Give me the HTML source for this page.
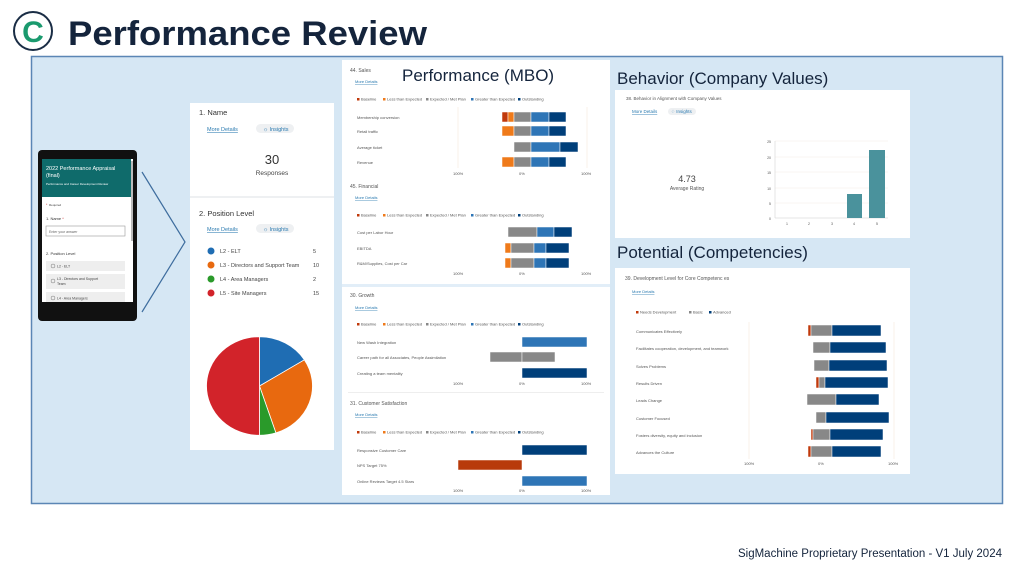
<!DOCTYPE html>
<html><head><meta charset="utf-8"><style>
html,body{margin:0;padding:0;background:#fff;}
svg{display:block;font-family:"Liberation Sans",sans-serif;}
</style></head><body>
<svg width="1024" height="571" viewBox="0 0 1024 571" xmlns="http://www.w3.org/2000/svg">
<rect width="1024" height="571" fill="#fff"/>
<!-- title -->
<circle cx="33" cy="31" r="19" fill="#fff" stroke="#1a2d45" stroke-width="2"/>
<text x="33" y="42" font-size="30" font-weight="bold" fill="#1a9a6e" text-anchor="middle">C</text>
<text x="68" y="45" font-size="34" font-weight="bold" fill="#14243c" textLength="359" lengthAdjust="spacingAndGlyphs">Performance Review</text>
<!-- panel -->
<rect x="31.5" y="56.5" width="971" height="447" fill="#d6e7f4" stroke="#5b86b5" stroke-width="1.5"/>
<!-- phone -->
<rect x="38" y="150" width="99" height="171" rx="4" fill="#111"/>
<rect x="42" y="159" width="91" height="143" fill="#fff"/>
<rect x="42" y="159" width="89" height="38" fill="#0f6b6b"/>
<text x="46" y="170" font-size="5.5" fill="#fff">2022 Performance Appraisal</text>
<text x="46" y="177" font-size="5.5" fill="#fff">(final)</text>
<text x="46" y="185" font-size="3" fill="#fff">Performance and Career Development Review</text>
<rect x="131" y="161" width="2" height="80" fill="#bbb"/>
<text x="46" y="206" font-size="3.5" fill="#c33">*</text><text x="49" y="206" font-size="3" fill="#444">Required</text>
<text x="46" y="220" font-size="4" fill="#333">1. Name <tspan fill="#c33">*</tspan></text>
<rect x="46" y="226" width="79" height="10" fill="#fff" stroke="#999" stroke-width="0.6"/>
<text x="49" y="233" font-size="3.5" fill="#666">Enter your answer</text>
<text x="46" y="255" font-size="4" fill="#333">2. Position Level</text>
<rect x="46" y="261" width="79" height="10" fill="#eee"/><circle cx="53" cy="266" r="2" fill="none" stroke="#777" stroke-width="0.5"/><text x="57" y="267.5" font-size="3.5" fill="#444">L2 - ELT</text>
<rect x="46" y="274" width="79" height="15" fill="#eee"/><circle cx="53" cy="281" r="2" fill="none" stroke="#777" stroke-width="0.5"/><text x="57" y="280" font-size="3.5" fill="#444">L3 - Directors and Support</text><text x="57" y="285" font-size="3.5" fill="#444">Team</text>
<rect x="46" y="292" width="79" height="10" fill="#eee"/><circle cx="53" cy="298" r="2" fill="none" stroke="#777" stroke-width="0.5"/><text x="57" y="299.5" font-size="3.5" fill="#444">L4 - Area Managers</text>
<!-- triangle -->
<polyline points="142,172 185,242 142,312" fill="none" stroke="#3e6d9e" stroke-width="1.2"/>
<!-- forms card -->
<rect x="190" y="103" width="144" height="347" fill="#fff"/>
<rect x="190" y="196" width="144" height="2" fill="#eef0f2"/>
<text x="199" y="115" font-size="7.5" fill="#333">1.  Name</text>
<text x="207" y="131" font-size="5.5" fill="#2a7ab0" text-decoration="underline">More Details</text>
<rect x="256" y="124" width="38" height="9" rx="4.5" fill="#eef0f2"/><text x="263" y="131" font-size="5.5" fill="#2a7ab0">☼ Insights</text>
<text x="272" y="164" font-size="13" fill="#333" text-anchor="middle">30</text>
<text x="272" y="175" font-size="6.5" fill="#444" text-anchor="middle">Responses</text>
<text x="199" y="216" font-size="7.5" fill="#333">2.  Position Level</text>
<text x="207" y="231" font-size="5.5" fill="#2a7ab0" text-decoration="underline">More Details</text>
<rect x="256" y="224" width="38" height="9" rx="4.5" fill="#eef0f2"/><text x="263" y="231" font-size="5.5" fill="#2a7ab0">☼ Insights</text>
<g font-size="5.5" fill="#444">
<circle cx="211" cy="251" r="3.5" fill="#1f6db3"/><text x="220" y="253">L2 - ELT</text><text x="313" y="253">5</text>
<circle cx="211" cy="265" r="3.5" fill="#e8690f"/><text x="220" y="267">L3 - Directors and Support Team</text><text x="313" y="267">10</text>
<circle cx="211" cy="279" r="3.5" fill="#2a9a2a"/><text x="220" y="281">L4 - Area Managers</text><text x="313" y="281">2</text>
<circle cx="211" cy="293" r="3.5" fill="#d2232a"/><text x="220" y="295">L5 - Site Managers</text><text x="313" y="295">15</text>
</g>
<g transform="translate(259.5,386) scale(1,0.93)" stroke="#fff" stroke-width="0.8">
<path d="M0,0 L0,-53 A53,53 0 0 1 44.9,-28.1 Z" fill="#1f6db3"/>
<path d="M0,0 L44.9,-28.1 A53,53 0 0 1 16.4,50.4 Z" fill="#e8690f"/>
<path d="M0,0 L16.4,50.4 A53,53 0 0 1 0,53 Z" fill="#2a9a2a"/>
<path d="M0,0 L0,53 A53,53 0 0 1 0,-53 Z" fill="#d2232a"/>
</g>
<!-- middle panel -->
<rect x="342" y="60" width="268" height="435" fill="#fff"/>
<rect x="342" y="284" width="268" height="3" fill="#e2eef8"/>
<rect x="348" y="392" width="256" height="1" fill="#eee"/>
<text x="402" y="81" font-size="17" fill="#14243c">Performance (MBO)</text>
<g font-size="4" fill="#555">
<text x="350" y="72" font-size="5">44.  Sales</text>
<text x="355" y="83" fill="#2a7ab0" text-decoration="underline">More Details</text>
<g id="leg"><rect x="357" y="98" width="2.5" height="2.5" fill="#c0390b"/><text x="361" y="100.5">Baseline</text>
<rect x="383" y="98" width="2.5" height="2.5" fill="#ef7a1a"/><text x="387" y="100.5">Less than Expected</text>
<rect x="426" y="98" width="2.5" height="2.5" fill="#888"/><text x="430" y="100.5">Expected / Met Plan</text>
<rect x="471" y="98" width="2.5" height="2.5" fill="#2e75b6"/><text x="475" y="100.5">Greater than Expected</text>
<rect x="518" y="98" width="2.5" height="2.5" fill="#003f7a"/><text x="522" y="100.5">Outstanding</text></g>
<line x1="458" y1="107" x2="458" y2="168" stroke="#f4e6dc" stroke-width="0.6"/><line x1="587" y1="107" x2="587" y2="168" stroke="#f4e6dc" stroke-width="0.6"/>
<text x="357" y="119">Membership conversion</text><text x="357" y="133">Retail traffic</text><text x="357" y="149">Average ticket</text><text x="357" y="164">Revenue</text>
<text x="453" y="175">100%</text><text x="519" y="175">0%</text><text x="581" y="175">100%</text>
<text x="350" y="188" font-size="5">45.  Financial</text>
<text x="355" y="199" fill="#2a7ab0" text-decoration="underline">More Details</text>
<use href="#leg" y="116"/>
<text x="357" y="234">Cost per Labor Hour</text><text x="357" y="250">EBITDA</text><text x="357" y="265">R&amp;M/Supplies, Cost per Car</text>
<text x="453" y="275">100%</text><text x="519" y="275">0%</text><text x="581" y="275">100%</text>
<text x="350" y="297" font-size="5">30.  Growth</text>
<text x="355" y="309" fill="#2a7ab0" text-decoration="underline">More Details</text>
<use href="#leg" y="225"/>
<text x="357" y="344">New Wash Integration</text><text x="357" y="359">Career path for all Associates, People Assimilation</text><text x="357" y="375">Creating a team mentality</text>
<text x="453" y="385">100%</text><text x="519" y="385">0%</text><text x="581" y="385">100%</text>
<text x="350" y="405" font-size="5">31.  Customer Satisfaction</text>
<text x="355" y="416" fill="#2a7ab0" text-decoration="underline">More Details</text>
<use href="#leg" y="333"/>
<text x="357" y="452">Responsive Customer Care</text><text x="357" y="467">NPS Target 75%</text><text x="357" y="483">Online Reviews Target 4.5 Stars</text>
<text x="453" y="492">100%</text><text x="519" y="492">0%</text><text x="581" y="492">100%</text>
</g>
<g stroke="#fff" stroke-width="0.5">
<rect x="502" y="112" width="6" height="10" fill="#c0390b"/><rect x="508" y="112" width="6" height="10" fill="#ef7a1a"/><rect x="514" y="112" width="17" height="10" fill="#888"/><rect x="531" y="112" width="18" height="10" fill="#2e75b6"/><rect x="549" y="112" width="17" height="10" fill="#003f7a"/>
<rect x="502" y="126" width="12" height="10" fill="#ef7a1a"/><rect x="514" y="126" width="17" height="10" fill="#888"/><rect x="531" y="126" width="18" height="10" fill="#2e75b6"/><rect x="549" y="126" width="17" height="10" fill="#003f7a"/>
<rect x="514" y="142" width="17" height="10" fill="#888"/><rect x="531" y="142" width="29" height="10" fill="#2e75b6"/><rect x="560" y="142" width="18" height="10" fill="#003f7a"/>
<rect x="502" y="157" width="12" height="10" fill="#ef7a1a"/><rect x="514" y="157" width="17" height="10" fill="#888"/><rect x="531" y="157" width="18" height="10" fill="#2e75b6"/><rect x="549" y="157" width="17" height="10" fill="#003f7a"/>
<rect x="508" y="227" width="29" height="10" fill="#888"/><rect x="537" y="227" width="17" height="10" fill="#2e75b6"/><rect x="554" y="227" width="18" height="10" fill="#003f7a"/>
<rect x="505" y="243" width="6" height="10" fill="#ef7a1a"/><rect x="511" y="243" width="23" height="10" fill="#888"/><rect x="534" y="243" width="12" height="10" fill="#2e75b6"/><rect x="546" y="243" width="23" height="10" fill="#003f7a"/>
<rect x="505" y="258" width="6" height="10" fill="#ef7a1a"/><rect x="511" y="258" width="23" height="10" fill="#888"/><rect x="534" y="258" width="12" height="10" fill="#2e75b6"/><rect x="546" y="258" width="23" height="10" fill="#003f7a"/>
<rect x="522" y="337" width="65" height="10" fill="#2e75b6"/>
<rect x="490" y="352" width="32" height="10" fill="#888"/><rect x="522" y="352" width="33" height="10" fill="#888"/>
<rect x="522" y="368" width="65" height="10" fill="#003f7a"/>
<rect x="522" y="445" width="65" height="10" fill="#003f7a"/>
<rect x="458" y="460" width="64" height="10" fill="#b83a0b"/>
<rect x="522" y="476" width="65" height="10" fill="#2e75b6"/>
</g>
<!-- behavior -->
<text x="617" y="84" font-size="17" fill="#14243c">Behavior (Company Values)</text>
<rect x="615" y="90" width="295" height="148" fill="#fff"/>
<g font-size="4.5" fill="#555">
<text x="626" y="100">38.  Behavior in Alignment with Company Values</text>
<text x="632" y="113" fill="#2a7ab0" text-decoration="underline">More Details</text>
<rect x="668" y="108" width="28" height="7" rx="3.5" fill="#eef0f2"/><text x="671" y="113" fill="#2a7ab0">♢ Insights</text>
<text x="687" y="182" font-size="9" fill="#444" text-anchor="middle">4.73</text>
<text x="687" y="190" font-size="5" text-anchor="middle">Average Rating</text>
<g stroke="#f3ece6" stroke-width="0.5"><line x1="775" y1="141" x2="888" y2="141"/><line x1="775" y1="157" x2="888" y2="157"/><line x1="775" y1="172" x2="888" y2="172"/><line x1="775" y1="188" x2="888" y2="188"/><line x1="775" y1="203" x2="888" y2="203"/></g>
<line x1="775" y1="218" x2="888" y2="218" stroke="#ccc" stroke-width="0.5"/><line x1="775" y1="141" x2="775" y2="218" stroke="#ccc" stroke-width="0.5"/>
<g font-size="3.5" text-anchor="end"><text x="771" y="143">25</text><text x="771" y="159">20</text><text x="771" y="174">15</text><text x="771" y="190">10</text><text x="771" y="205">5</text><text x="771" y="220">0</text></g>
<g font-size="3.5" text-anchor="middle"><text x="787" y="225">1</text><text x="809" y="225">2</text><text x="832" y="225">3</text><text x="854" y="225">4</text><text x="877" y="225">5</text></g>
<rect x="847" y="194" width="15" height="24" fill="#4a929c"/>
<rect x="869" y="150" width="16" height="68" fill="#4a929c"/>
</g>
<!-- potential -->
<text x="617" y="258" font-size="17" fill="#14243c">Potential (Competencies)</text>
<rect x="615" y="268" width="295" height="206" fill="#fff"/>
<g font-size="4" fill="#555">
<text x="625" y="280" font-size="5">39.  Development Level for Core Competenc es</text>
<text x="632" y="293" fill="#2a7ab0" text-decoration="underline">More Details</text>
<rect x="636" y="311" width="2.5" height="2.5" fill="#c0390b"/><text x="640" y="313.5">Needs Development</text>
<rect x="689" y="311" width="2.5" height="2.5" fill="#888"/><text x="693" y="313.5">Basic</text>
<rect x="709" y="311" width="2.5" height="2.5" fill="#003f7a"/><text x="713" y="313.5">Advanced</text>
<line x1="749" y1="322" x2="749" y2="459" stroke="#f4e6dc" stroke-width="0.6"/><line x1="894" y1="322" x2="894" y2="459" stroke="#f4e6dc" stroke-width="0.6"/>
<text x="636" y="333">Communicates Effectively</text>
<text x="636" y="350">Facilitates  cooperation, development, and teamwork</text>
<text x="636" y="368">Solves Problems</text>
<text x="636" y="385">Results Driven</text>
<text x="636" y="402">Leads Change</text>
<text x="636" y="420">Customer Focused</text>
<text x="636" y="437">Fosters diversity, equity and inclusion</text>
<text x="636" y="454">Advances the Culture</text>
<text x="744" y="465">100%</text><text x="818" y="465">0%</text><text x="888" y="465">100%</text>
</g>
<g stroke="#fff" stroke-width="0.5">
<rect x="808" y="325" width="3" height="11" fill="#c0390b"/><rect x="811" y="325" width="21" height="11" fill="#888"/><rect x="832" y="325" width="49" height="11" fill="#003f7a"/>
<rect x="813" y="342" width="17" height="11" fill="#888"/><rect x="830" y="342" width="56" height="11" fill="#003f7a"/>
<rect x="814" y="360" width="15" height="11" fill="#888"/><rect x="829" y="360" width="58" height="11" fill="#003f7a"/>
<rect x="816" y="377" width="3" height="11" fill="#c0390b"/><rect x="819" y="377" width="6" height="11" fill="#888"/><rect x="825" y="377" width="63" height="11" fill="#003f7a"/>
<rect x="807" y="394" width="29" height="11" fill="#888"/><rect x="836" y="394" width="43" height="11" fill="#003f7a"/>
<rect x="816" y="412" width="10" height="11" fill="#888"/><rect x="826" y="412" width="63" height="11" fill="#003f7a"/>
<rect x="811" y="429" width="2" height="11" fill="#c0390b"/><rect x="813" y="429" width="17" height="11" fill="#888"/><rect x="830" y="429" width="53" height="11" fill="#003f7a"/>
<rect x="808" y="446" width="3" height="11" fill="#c0390b"/><rect x="811" y="446" width="21" height="11" fill="#888"/><rect x="832" y="446" width="49" height="11" fill="#003f7a"/>
</g>
<!-- footer -->
<text x="1002" y="557" font-size="11.5" fill="#14243c" text-anchor="end">SigMachine Proprietary Presentation  - V1 July 2024</text>
</svg>
</body></html>
